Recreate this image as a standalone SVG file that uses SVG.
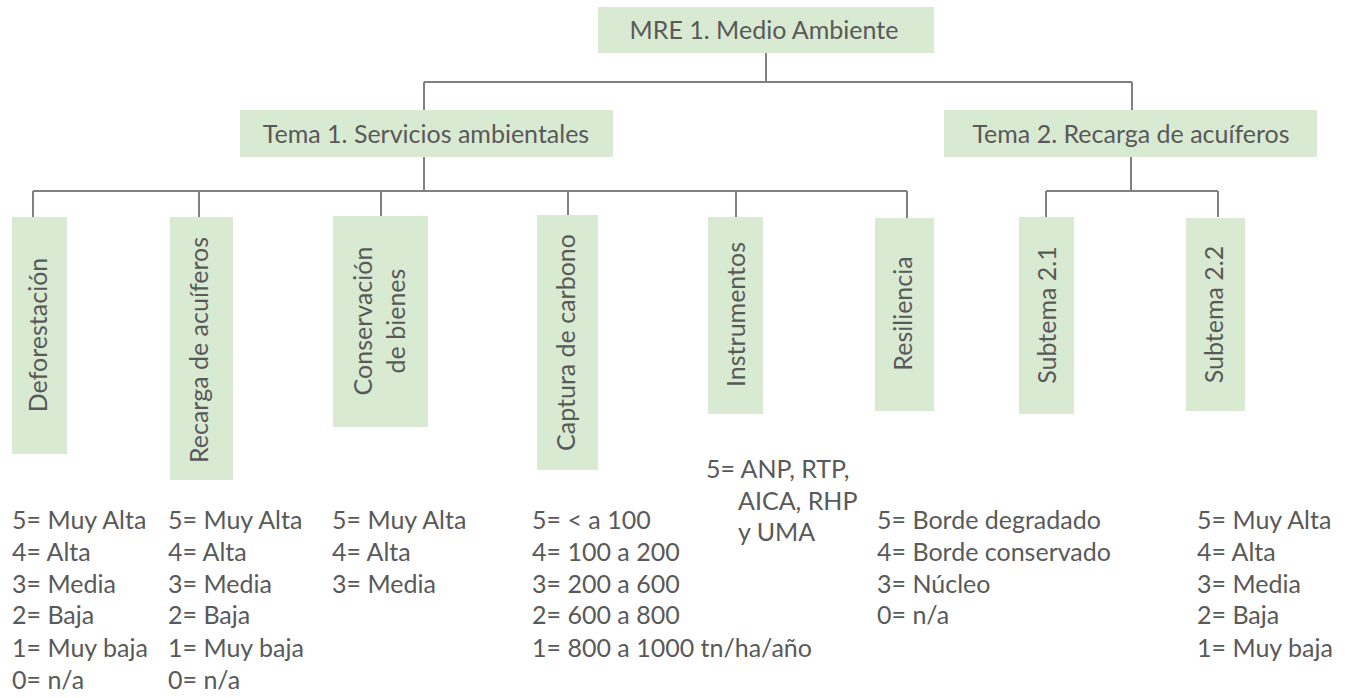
<svg xmlns="http://www.w3.org/2000/svg" width="1345" height="698" viewBox="0 0 1345 698">
<style>
.box{fill:#d9ead3;}
.t{font-family:Lato,"Liberation Sans",sans-serif;font-size:25px;fill:#595959;}
.c{text-anchor:middle;}
.ln{stroke:#808080;stroke-width:2;fill:none;}
</style>
<rect width="1345" height="698" fill="#ffffff"/>
<g id="connectors">
<path class="ln" d="M766,53 V82 M424,82 H1132 M424,82 V110 M1132,82 V110"/>
<path class="ln" d="M424,157 V191 M33,191 H907 M33,191 V217 M199,191 V217 M381,191 V216 M568,191 V215 M736,191 V217 M907,191 V218"/>
<path class="ln" d="M1131,157 V191 M1046,191 H1218 M1046,191 V217 M1218,191 V217"/>
</g>
<g id="mre1"><rect class="box" x="598" y="7" width="336" height="46"/><text class="t c" x="764" y="39">MRE 1. Medio Ambiente</text></g>
<g id="tema1"><rect class="box" x="240" y="110" width="373" height="47"/><text class="t c" x="426" y="143">Tema 1. Servicios ambientales</text></g>
<g id="tema2"><rect class="box" x="944" y="110" width="373" height="47"/><text class="t c" x="1131" y="143">Tema 2. Recarga de acuíferos</text></g>
<g id="deforestacion"><rect class="box" x="12" y="217" width="55" height="237"/><text class="t c" transform="translate(38,335) rotate(-90)" y="9">Deforestación</text></g>
<g id="recarga"><rect class="box" x="170" y="217" width="63" height="263"/><text class="t c" transform="translate(198.5,350) rotate(-90)" y="9">Recarga de acuíferos</text></g>
<g id="conservacion"><rect class="box" x="333" y="216" width="95" height="211"/><text class="t c" transform="translate(363,321) rotate(-90)"><tspan x="0" y="9">Conservación</tspan><tspan x="0" y="42">de bienes</tspan></text></g>
<g id="captura"><rect class="box" x="537" y="215" width="61" height="255"/><text class="t c" transform="translate(565.5,342.5) rotate(-90)" y="9">Captura de carbono</text></g>
<g id="instrumentos"><rect class="box" x="708" y="217" width="55" height="197"/><text class="t c" transform="translate(735.5,314.5) rotate(-90)" y="9">Instrumentos</text></g>
<g id="resiliencia"><rect class="box" x="875" y="218" width="59" height="193"/><text class="t c" transform="translate(902.5,313.5) rotate(-90)" y="9">Resiliencia</text></g>
<g id="subtema21"><rect class="box" x="1019" y="217" width="55" height="197"/><text class="t c" transform="translate(1046.5,315) rotate(-90)" y="9">Subtema 2.1</text></g>
<g id="subtema22"><rect class="box" x="1186" y="218" width="59" height="193"/><text class="t c" transform="translate(1213.7,314.5) rotate(-90)" y="9">Subtema 2.2</text></g>
<g id="list-deforestacion"><text class="t" x="12" y="529"><tspan x="12" y="529">5= Muy Alta</tspan><tspan x="12" y="561">4= Alta</tspan><tspan x="12" y="593">3= Media</tspan><tspan x="12" y="624">2= Baja</tspan><tspan x="12" y="657">1= Muy baja</tspan><tspan x="12" y="689">0= n/a</tspan></text></g>
<g id="list-recarga"><text class="t" x="168" y="529"><tspan x="168" y="529">5= Muy Alta</tspan><tspan x="168" y="561">4= Alta</tspan><tspan x="168" y="593">3= Media</tspan><tspan x="168" y="624">2= Baja</tspan><tspan x="168" y="657">1= Muy baja</tspan><tspan x="168" y="689">0= n/a</tspan></text></g>
<g id="list-conservacion"><text class="t" x="332" y="529"><tspan x="332" y="529">5= Muy Alta</tspan><tspan x="332" y="561">4= Alta</tspan><tspan x="332" y="593">3= Media</tspan></text></g>
<g id="list-captura"><text class="t" x="532" y="529"><tspan x="532" y="529">5= &lt; a 100</tspan><tspan x="532" y="561">4= 100 a 200</tspan><tspan x="532" y="593">3= 200 a 600</tspan><tspan x="532" y="624">2= 600 a 800</tspan><tspan x="532" y="657">1= 800 a 1000 tn/ha/año</tspan></text></g>
<g id="list-instrumentos"><text class="t" x="706" y="478"><tspan x="706" y="478">5= ANP, RTP,</tspan><tspan x="738" y="510">AICA, RHP</tspan><tspan x="738" y="541">y UMA</tspan></text></g>
<g id="list-resiliencia"><text class="t" x="877" y="529"><tspan x="877" y="529">5= Borde degradado</tspan><tspan x="877" y="561">4= Borde conservado</tspan><tspan x="877" y="593">3= Núcleo</tspan><tspan x="877" y="624">0= n/a</tspan></text></g>
<g id="list-subtema22"><text class="t" x="1197" y="529"><tspan x="1197" y="529">5= Muy Alta</tspan><tspan x="1197" y="561">4= Alta</tspan><tspan x="1197" y="593">3= Media</tspan><tspan x="1197" y="624">2= Baja</tspan><tspan x="1197" y="657">1= Muy baja</tspan></text></g>
</svg>
